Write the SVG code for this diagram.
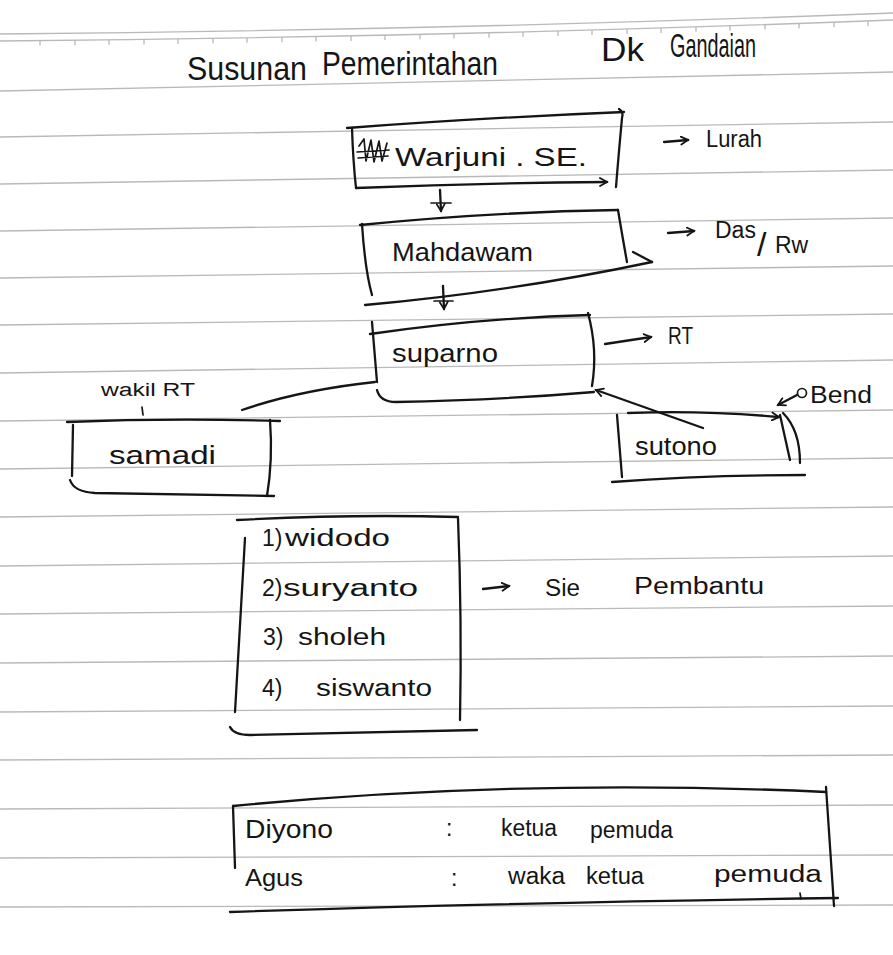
<svg xmlns="http://www.w3.org/2000/svg" width="893" height="955" viewBox="0 0 893 955">
<defs>
<style>
.rule{fill:none;stroke:#b9b9b9;stroke-width:1.3}
.ink{fill:none;stroke:#151515;stroke-width:2.3;stroke-linecap:round;stroke-linejoin:round}
.thin{stroke-width:1.7}
.t{font-family:"Liberation Sans","DejaVu Sans",sans-serif;fill:#151515}
.lbl{font-size:26px}
.md{font-size:23px}
.sm{font-size:18px}
.ttl{font-size:34px}
</style>
<marker id="ah" viewBox="0 0 10 10" refX="8" refY="5" markerWidth="10" markerHeight="10" markerUnits="userSpaceOnUse" orient="auto"><path d="M1,1 L8,5 L1,9" fill="none" stroke="#151515" stroke-width="1.8" stroke-linecap="round"/></marker>
</defs>
<rect x="0" y="0" width="893" height="955" fill="#ffffff"/>
<g id="paper">
<path class="rule" d="M0,34 Q450,30 893,13"/>
<path class="rule" d="M0,41 Q450,37 893,20"/>
<path class="rule" d="M40,40.6v5M75,40.2v5M109,39.8v5M144,39.4v5M178,38.9v5M213,38.3v5M247,37.8v5M282,37.2v5M316,36.5v5M351,35.9v5M385,35.1v5M420,34.3v5M454,33.6v5M489,32.7v5M523,31.8v5M558,30.9v5M592,30v5M627,29v5M661,28v5M696,26.8v5M730,25.8v5M765,24.6v5M799,23.4v5M834,22.2v5M868,20.9v5"/>
<path class="rule" d="M0,91 Q500,82 893,72"/>
<path class="rule" d="M0,137 L893,122"/>
<path class="rule" d="M0,184 L893,170"/>
<path class="rule" d="M0,231 L893,218"/>
<path class="rule" d="M0,278 L893,266"/>
<path class="rule" d="M0,325 L893,314"/>
<path class="rule" d="M0,373 L893,360"/>
<path class="rule" d="M0,421 L893,410"/>
<path class="rule" d="M0,469 L893,458"/>
<path class="rule" d="M0,517 L893,507"/>
<path class="rule" d="M0,566 L893,556"/>
<path class="rule" d="M0,614 L893,606"/>
<path class="rule" d="M0,663 L893,656"/>
<path class="rule" d="M0,712 L893,706"/>
<path class="rule" d="M0,760 L893,755"/>
<path class="rule" d="M0,809 L893,805"/>
<path class="rule" d="M0,858 L893,855"/>
<path class="rule" d="M0,907 L893,905"/>
</g>
<g id="title">
<text class="t ttl" x="187" y="80" textLength="120" lengthAdjust="spacingAndGlyphs">Susunan</text>
<text class="t ttl" x="322" y="75" textLength="176" lengthAdjust="spacingAndGlyphs">Pemerintahan</text>
<text class="t ttl" x="601" y="61" textLength="43" lengthAdjust="spacingAndGlyphs">Dk</text>
<text class="t ttl" x="670" y="57" textLength="86" lengthAdjust="spacingAndGlyphs">Gandaian</text>
</g>
<g id="connectors">
<path class="ink" d="M440,190 L441,211" marker-end="url(#ah)"/>
<path class="ink thin" d="M431,203 L451,203"/>
<path class="ink" d="M443,286 L444,309" marker-end="url(#ah)"/>
<path class="ink thin" d="M434,301 L453,301"/>
<path class="ink" d="M242,410 Q300,390 375,382"/>
<path class="ink" d="M703,428 L596,390" marker-end="url(#ah)"/>
<path class="ink" d="M664,142 L688,140" marker-end="url(#ah)"/>
<path class="ink" d="M668,233 L694,231" marker-end="url(#ah)"/>
<path class="ink" d="M605,344 L651,337" marker-end="url(#ah)"/>
<path class="ink" d="M483,589 L509,586" marker-end="url(#ah)"/>
<path class="ink" d="M797,395 L778,405" marker-end="url(#ah)"/>
<circle class="ink thin" cx="802" cy="393" r="4.5"/>
</g>
<g id="node-warjuni">
<path class="ink" d="M347,128 Q480,118 624,112"/>
<path class="ink" d="M352,128 Q353,160 356,188"/>
<path class="ink" d="M619,109 Q624,112 622,118 Q619,150 616,187"/>
<path class="ink" d="M356,188 Q480,183 607,182" marker-end="url(#ah)"/>
<path class="ink thin" d="M359,146 L364,139 L366,161 L371,140 L374,162 L379,141 L382,161 L387,143 M357,152 L389,150 M358,158 L388,156"/>
<text class="t lbl" x="395" y="166" textLength="192" lengthAdjust="spacingAndGlyphs">Warjuni . SE.</text>
<text class="t md" x="706" y="147" textLength="56" lengthAdjust="spacingAndGlyphs">Lurah</text>
</g>
<g id="node-mahdawam">
<path class="ink" d="M360,225 Q490,212 618,210"/>
<path class="ink" d="M362,224 Q365,270 372,295"/>
<path class="ink" d="M618,210 Q623,240 627,262"/>
<path class="ink" d="M633,252 L652,262"/>
<path class="ink" d="M365,305 Q510,292 652,262"/>
<text class="t lbl" x="392" y="261" textLength="141" lengthAdjust="spacingAndGlyphs">Mahdawam</text>
<text class="t md" x="715" y="238">Das<tspan font-size="34" x="757" y="256">/</tspan><tspan x="775" y="253">Rw</tspan></text>
</g>
<g id="node-suparno">
<path class="ink" d="M370,334 Q480,318 590,315"/>
<path class="ink" d="M372,322 L377,382"/>
<path class="ink" d="M588,313 Q598,350 592,386"/>
<path class="ink" d="M377,390 Q380,402 396,402 Q500,400 594,392"/>
<text class="t lbl" x="392" y="362" textLength="106" lengthAdjust="spacingAndGlyphs">suparno</text>
<text class="t md" x="668" y="344" textLength="25" lengthAdjust="spacingAndGlyphs">RT</text>
</g>
<g id="node-samadi">
<text class="t sm" x="101" y="396" textLength="94" lengthAdjust="spacingAndGlyphs">wakil RT</text>
<path class="ink thin" d="M142,407 L143,415"/>
<path class="ink" d="M67,422 Q170,418 280,421"/>
<path class="ink" d="M73,425 L72,476"/>
<path class="ink" d="M270,420 Q273,460 267,496"/>
<path class="ink" d="M70,480 Q74,492 95,493 L274,496"/>
<text class="t lbl" x="109" y="464" textLength="107" lengthAdjust="spacingAndGlyphs">samadi</text>
</g>
<g id="node-sutono">
<path class="ink" d="M628,413 Q700,410 779,417" marker-end="url(#ah)"/>
<path class="ink" d="M617,415 L622,477"/>
<path class="ink" d="M780,415 L790,460"/>
<path class="ink" d="M783,413 Q800,430 800,463"/>
<path class="ink" d="M612,482 Q700,475 805,475"/>
<text class="t lbl" x="635" y="455" textLength="82" lengthAdjust="spacingAndGlyphs">sutono</text>
<text class="t md" x="810" y="403" textLength="62" lengthAdjust="spacingAndGlyphs">Bend</text>
</g>
<g id="node-pembantu">
<path class="ink" d="M237,520 Q350,514 458,517"/>
<path class="ink" d="M245,538 Q240,620 235,712"/>
<path class="ink" d="M458,518 Q462,620 460,720"/>
<path class="ink" d="M230,727 Q234,735 250,735 L477,730"/>
<text class="t md" x="262" y="546">1)<tspan x="285" textLength="105" lengthAdjust="spacingAndGlyphs">widodo</tspan></text>
<text class="t md" x="262" y="596">2)<tspan x="283" textLength="135" lengthAdjust="spacingAndGlyphs">suryanto</tspan></text>
<text class="t md" x="263" y="645">3)<tspan x="298" textLength="88" lengthAdjust="spacingAndGlyphs">sholeh</tspan></text>
<text class="t md" x="262" y="696">4)<tspan x="316" textLength="116" lengthAdjust="spacingAndGlyphs">siswanto</tspan></text>
<text class="t md" x="545" y="596" textLength="35" lengthAdjust="spacingAndGlyphs">Sie</text>
<text class="t md" x="634" y="594" textLength="130" lengthAdjust="spacingAndGlyphs">Pembantu</text>
</g>
<g id="node-pemuda">
<path class="ink" d="M233,806 Q520,778 826,792"/>
<path class="ink" d="M826,787 L834,906"/>
<path class="ink" d="M233,806 L235,868"/>
<path class="ink" d="M230,912 Q500,903 838,898"/>
<path class="ink thin" d="M800,893 L801,899"/>
<text class="t lbl" x="245" y="838" textLength="88" lengthAdjust="spacingAndGlyphs">Diyono</text>
<text class="t md" x="446" y="836">:</text>
<text class="t md" x="501" y="836" textLength="56" lengthAdjust="spacingAndGlyphs">ketua</text>
<text class="t md" x="590" y="838" textLength="83" lengthAdjust="spacingAndGlyphs">pemuda</text>
<text class="t md" x="245" y="886" textLength="58" lengthAdjust="spacingAndGlyphs">Agus</text>
<text class="t md" x="451" y="886">:</text>
<text class="t md" x="508" y="884" textLength="57" lengthAdjust="spacingAndGlyphs">waka</text>
<text class="t md" x="586" y="884" textLength="58" lengthAdjust="spacingAndGlyphs">ketua</text>
<text class="t md" x="714" y="882" textLength="108" lengthAdjust="spacingAndGlyphs">pemuda</text>
</g>
</svg>
